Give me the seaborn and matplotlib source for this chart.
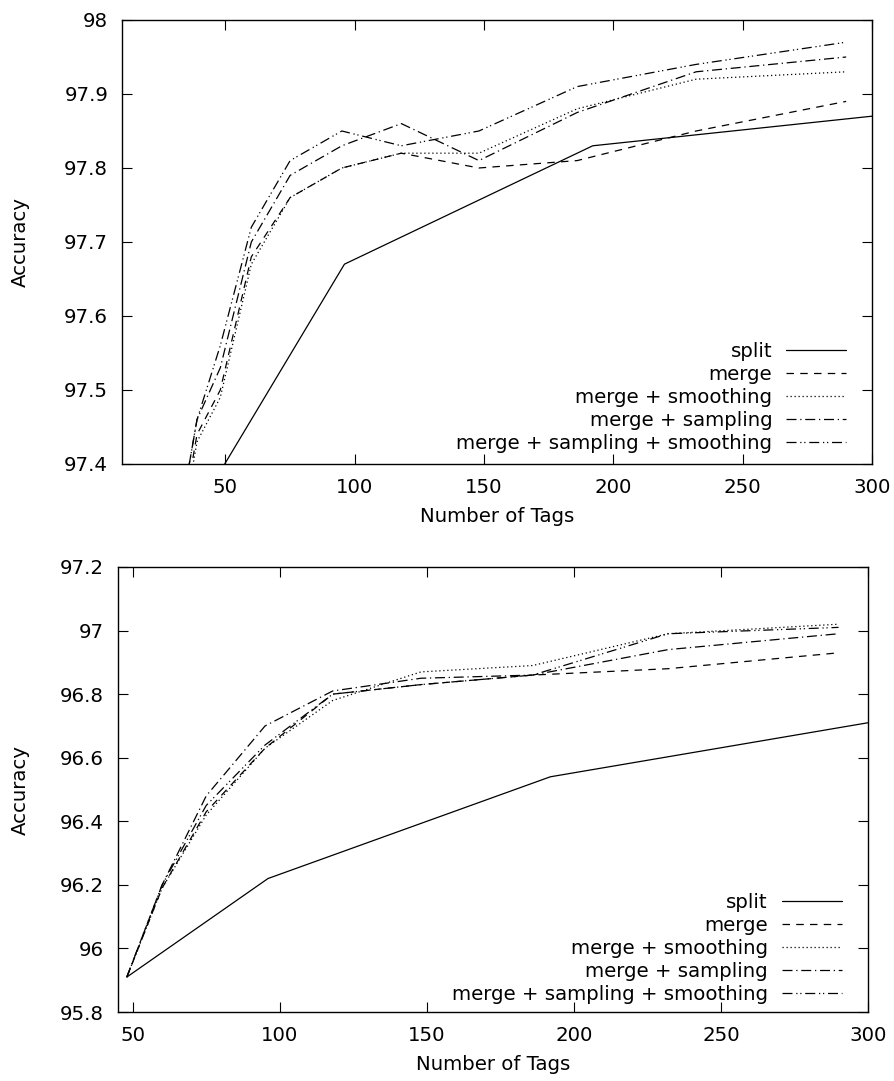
import matplotlib
matplotlib.use("Agg")
import matplotlib.pyplot as plt
import pandas as pd
import seaborn as sns
from matplotlib.ticker import MultipleLocator

sns.set_style("ticks")
plt.rcParams['font.family'] = ['DejaVu Sans']
plt.rcParams.update({"text.color": "black", "axes.labelcolor": "black",
                     "xtick.color": "black", "ytick.color": "black"})

methods = ["split", "merge", "merge + smoothing", "merge + sampling",
           "merge + sampling + smoothing"]

# x positions (number of tags)
split_tags = [48, 96, 192, 300]
tags_top = [31, 39, 48, 60, 75, 95, 118, 148, 186, 232, 290]
tags_bot = [48, 60, 75, 95, 118, 148, 186, 232, 290]

# top panel accuracies
top_split = [97.39, 97.67, 97.83, 97.87]
top_merge = [97.28, 97.44, 97.50, 97.68, 97.76, 97.80, 97.82, 97.80, 97.81, 97.85, 97.89]
top_merge_smooth = [97.27, 97.43, 97.49, 97.67, 97.76, 97.80, 97.82, 97.82, 97.88, 97.92, 97.93]
top_merge_samp = [97.30, 97.46, 97.53, 97.70, 97.79, 97.83, 97.86, 97.81, 97.875, 97.93, 97.95]
top_merge_samp_smooth = [97.30, 97.46, 97.56, 97.72, 97.81, 97.85, 97.83, 97.85, 97.91, 97.94, 97.97]

# bottom panel accuracies
bot_split = [95.91, 96.22, 96.54, 96.71]
bot_merge = [95.91, 96.19, 96.43, 96.63, 96.80, 96.83, 96.86, 96.88, 96.93]
bot_merge_smooth = [95.91, 96.19, 96.42, 96.63, 96.78, 96.87, 96.89, 96.99, 97.02]
bot_merge_samp = [95.91, 96.20, 96.48, 96.70, 96.81, 96.85, 96.86, 96.94, 96.99]
bot_merge_samp_smooth = [95.91, 96.20, 96.45, 96.64, 96.80, 96.83, 96.86, 96.99, 97.01]

# gnuplot-like dash types
dash_map = {
    "split": "",
    "merge": (6, 5),
    "merge + smoothing": (1, 2.2),
    "merge + sampling": (8, 3, 1, 3),
    "merge + sampling + smoothing": (8, 3, 1, 2.2, 1, 3),
}


def long_form(split_x, split_y, x, series):
    rows = [(a, b, "split") for a, b in zip(split_x, split_y)]
    for name, ys in zip(methods[1:], series):
        rows += [(a, b, name) for a, b in zip(x, ys)]
    return pd.DataFrame(rows, columns=["tags", "acc", "method"])


df_top = long_form(split_tags, top_split, tags_top,
                   [top_merge, top_merge_smooth, top_merge_samp, top_merge_samp_smooth])
df_bot = long_form(split_tags, bot_split, tags_bot,
                   [bot_merge, bot_merge_smooth, bot_merge_samp, bot_merge_samp_smooth])

fig = plt.figure(figsize=(8.94, 10.81), dpi=100)
ax1 = fig.add_axes([0.1365, 0.5708, 0.8389, 0.4107])
ax2 = fig.add_axes([0.1320, 0.0638, 0.8389, 0.4117])

FS = 14.2


def draw(ax, df, xlim, ylim, ystep, ylab_x, leg_anchor):
    sns.lineplot(data=df, x="tags", y="acc", style="method", style_order=methods,
                 dashes=dash_map, color="black", linewidth=0.9, estimator=None,
                 sort=False, ax=ax)
    ax.set_xlim(*xlim)
    ax.set_ylim(*ylim)
    ax.xaxis.set_major_locator(MultipleLocator(50))
    ax.yaxis.set_major_locator(MultipleLocator(ystep))
    ax.yaxis.set_major_formatter(plt.FuncFormatter(lambda v, p: f"{v:g}"))
    ax.tick_params(direction="in", length=7, width=0.8, top=True, right=True,
                   labelsize=FS, pad=10)
    for s in ax.spines.values():
        s.set_linewidth(1.0)
        s.set_color("black")
    ax.set_xlabel("Number of Tags", fontsize=FS, labelpad=7)
    ax.set_ylabel("Accuracy", fontsize=FS)
    ax.yaxis.set_label_coords(ylab_x, 0.5)
    handles, labels = ax.get_legend_handles_labels()
    ax.legend(handles, labels, loc="lower right", frameon=False, fontsize=FS,
              markerfirst=False, handlelength=3.05, handletextpad=0.7,
              labelspacing=0.2, borderaxespad=0.0, borderpad=0.4,
              bbox_to_anchor=leg_anchor)


draw(ax1, df_top, (10, 300), (97.4, 98.0), 0.1, -0.1227, (0.976, 0.008))
draw(ax2, df_bot, (45, 300), (95.8, 97.2), 0.2, -0.1173, (0.9756, 0.0))

fig.savefig("out.png", dpi=100)
